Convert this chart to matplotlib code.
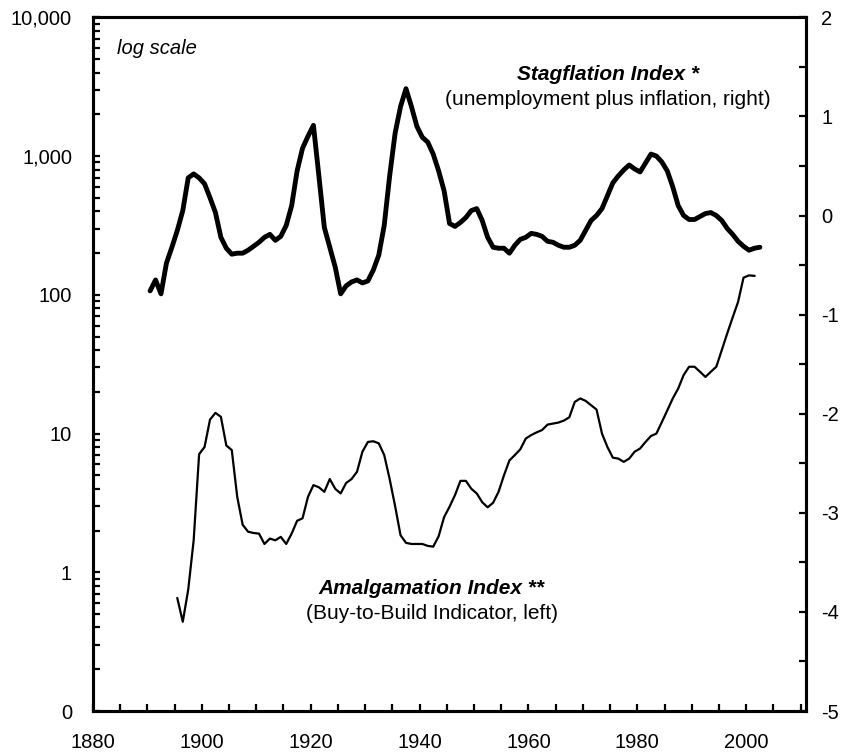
import numpy as np
import matplotlib
matplotlib.use("Agg")
import matplotlib.pyplot as plt
from matplotlib.ticker import FixedLocator, MultipleLocator, LogLocator, FuncFormatter, NullFormatter

plt.rcParams["font.family"] = ["Liberation Sans", "DejaVu Sans"]
plt.rcParams["axes.unicode_minus"] = False   # plain hyphen on the right axis

# Stagflation Index (unemployment plus inflation), right axis
stag_years = list(range(1890, 2003))
stag_values = [
    -0.76, -0.65, -0.79, -0.48, -0.32, -0.15, 0.05, 0.38, 0.42, 0.38,   # 1890s
    0.32, 0.18, 0.03, -0.22, -0.33, -0.39, -0.38, -0.38, -0.35, -0.31,  # 1900s
    -0.27, -0.22, -0.19, -0.25, -0.21, -0.10, 0.10, 0.45, 0.68, 0.80,   # 1910s
    0.91, 0.40, -0.12, -0.32, -0.52, -0.79, -0.71, -0.67, -0.65, -0.68, # 1920s
    -0.66, -0.55, -0.40, -0.10, 0.40, 0.83, 1.10, 1.28, 1.10, 0.90,     # 1930s
    0.79, 0.74, 0.62, 0.45, 0.25, -0.08, -0.11, -0.07, -0.02, 0.05,     # 1940s
    0.07, -0.05, -0.22, -0.32, -0.33, -0.33, -0.38, -0.30, -0.24, -0.22,  # 1950s
    -0.18, -0.19, -0.21, -0.26, -0.27, -0.30, -0.32, -0.32, -0.30, -0.25,  # 1960s
    -0.15, -0.05, 0.00, 0.07, 0.20, 0.33, 0.40, 0.46, 0.51, 0.47,       # 1970s
    0.44, 0.53, 0.62, 0.60, 0.54, 0.45, 0.29, 0.10, 0.00, -0.04,        # 1980s
    -0.04, -0.01, 0.02, 0.03, 0.00, -0.05, -0.13, -0.19, -0.26, -0.31,  # 1990s
    -0.35, -0.33, -0.32,                                                # 2000s
]

# Amalgamation Index (Buy-to-Build Indicator), left axis, log scale
amal_years = list(range(1895, 2002))
amal_values = [
    0.65, 0.44, 0.75, 1.7, 7.1,                                 # 1895-99
    8.0, 12.6, 14.1, 13.2, 8.2, 7.6, 3.5, 2.2, 1.96, 1.92,      # 1900s
    1.9, 1.6, 1.75, 1.7, 1.8, 1.6, 1.9, 2.35, 2.45, 3.5,        # 1910s
    4.25, 4.1, 3.8, 4.7, 4.0, 3.7, 4.4, 4.7, 5.3, 7.4,          # 1920s
    8.7, 8.8, 8.5, 7.0, 4.7, 3.0, 1.85, 1.63, 1.6, 1.6,         # 1930s
    1.6, 1.55, 1.53, 1.82, 2.5, 2.97, 3.6, 4.56, 4.56, 4.0,     # 1940s
    3.7, 3.2, 2.94, 3.17, 3.8, 5.0, 6.4, 7.0, 7.7, 9.2,         # 1950s
    9.75, 10.2, 10.6, 11.6, 11.8, 12.0, 12.4, 13.1, 16.9, 17.9, # 1960s
    17.2, 16.0, 14.9, 10.0, 8.0, 6.7, 6.6, 6.25, 6.6, 7.4,      # 1970s
    7.8, 8.7, 9.6, 10.0, 12.1, 14.7, 17.9, 21.1, 26.4, 30.3,    # 1980s
    30.3, 27.9, 25.6, 27.9, 30.3, 39.9, 52.6, 68.6, 88.9, 133,  # 1990s
    138, 137,                                                   # 2000s
]

left_ticks = [0.1, 1, 10, 100, 1000, 10000]
right_ticks = [-5, -4, -3, -2, -1, 0, 1, 2]
x_labels = [1880, 1900, 1920, 1940, 1960, 1980, 2000]

fig = plt.figure(figsize=(8.45, 7.54), dpi=100)
ax = fig.add_axes([0.110, 0.057, 0.844, 0.920])
ax2 = ax.twinx()

# values are plotted at mid-year
ax.plot(np.array(amal_years) + 0.5, amal_values, color="black", linewidth=1.6)
ax2.plot(np.array(stag_years) + 0.5, stag_values, color="black", linewidth=3.5,
         solid_joinstyle="round", solid_capstyle="round")

ax.set_xlim(1880, 2011)
ax.set_yscale("log")
ax.set_ylim(0.1, 10000)
ax2.set_ylim(-5, 2)

ax.xaxis.set_major_locator(FixedLocator(x_labels))
ax.xaxis.set_minor_locator(MultipleLocator(5))
ax.yaxis.set_major_locator(FixedLocator(left_ticks))
ax.yaxis.set_minor_locator(LogLocator(base=10, subs=np.arange(2, 10)))
ax.yaxis.set_minor_formatter(NullFormatter())
ax.yaxis.set_major_formatter(FuncFormatter(lambda v, p: "0" if v < 0.5 else f"{v:,.0f}"))
ax2.yaxis.set_major_locator(FixedLocator(right_ticks))
ax2.yaxis.set_minor_locator(MultipleLocator(0.5))

for a in (ax, ax2):
    for s in a.spines.values():
        s.set_linewidth(2.2)
    a.tick_params(which="both", direction="in", length=5, width=1.6, labelsize=14.5)

ax.tick_params(axis="y", pad=15)
ax.tick_params(axis="x", pad=16)
ax2.tick_params(axis="y", pad=11)

ax.text(0.034, 0.955, "log scale", transform=ax.transAxes, fontsize=14.5,
        style="italic", ha="left", va="center")
ax.text(0.722, 0.918, "Stagflation Index *", transform=ax.transAxes, fontsize=15,
        style="italic", fontweight="bold", ha="center", va="center")
ax.text(0.722, 0.882, "(unemployment plus inflation, right)", transform=ax.transAxes,
        fontsize=15, ha="center", va="center")
ax.text(0.475, 0.176, "Amalgamation Index **", transform=ax.transAxes, fontsize=15,
        style="italic", fontweight="bold", ha="center", va="center")
ax.text(0.475, 0.140, "(Buy-to-Build Indicator, left)", transform=ax.transAxes,
        fontsize=15, ha="center", va="center")

fig.savefig("out.png", dpi=100)
